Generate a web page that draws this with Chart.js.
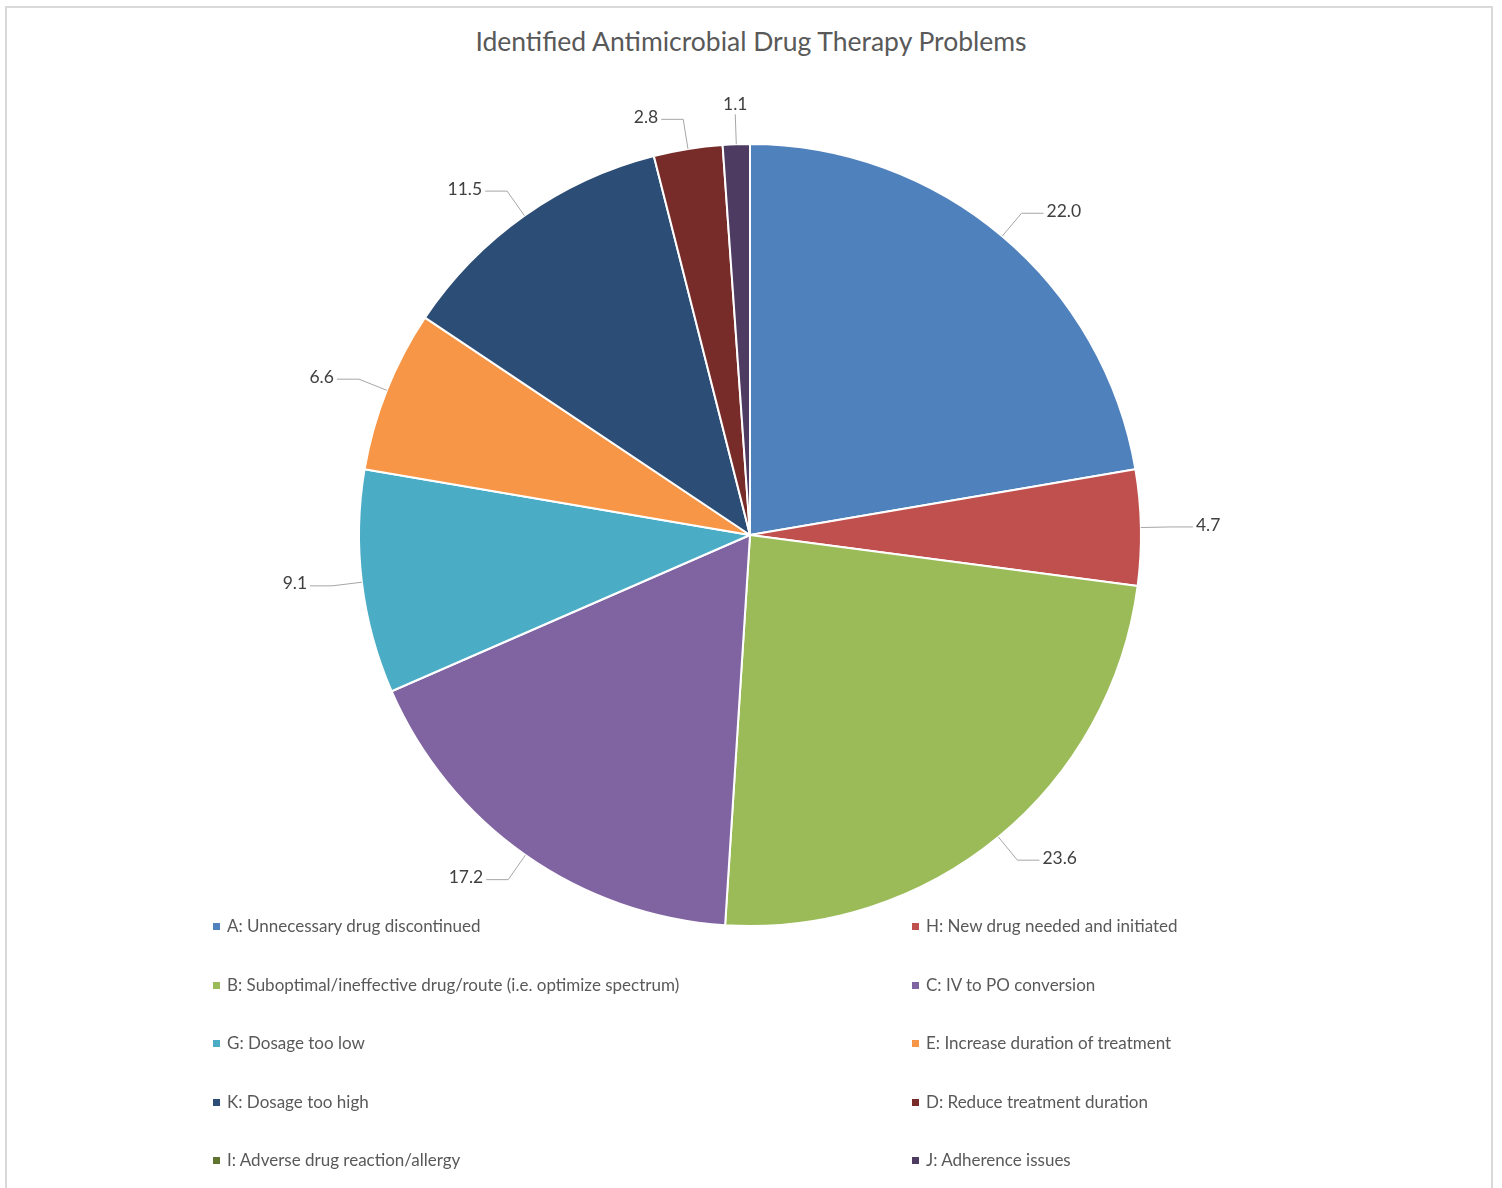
<!DOCTYPE html>
<html>
<head>
<meta charset="utf-8">
<script src="https://cdn.jsdelivr.net/npm/chart.js@4.4.0/dist/chart.umd.min.js"></script>
<style>
  html, body { margin: 0; padding: 0; background: #fff; overflow: hidden; }
  #wrap { position: relative; width: 1502px; height: 1188px; font-family: Lato, "Open Sans", sans-serif; }
  #frame { position: absolute; left: 5px; top: 6px; width: 1488px; height: 1220px; border: 2px solid #d9d9d9; box-sizing: border-box; }
  #title { position: absolute; left: 0; width: 1502px; top: 25px; text-align: center; font-size: 26.5px; color: #595959; }
  #canvas { position: absolute; left: 0; top: 0; }
  .item { position: absolute; font-size: 17px; color: #595959; white-space: nowrap; line-height: 20px; }
  .item span { display: inline-block; width: 7px; height: 7px; margin-right: 7px; vertical-align: 2px; }
</style>
</head>
<body>
<div id="wrap">
  <div id="frame"></div>
  <div id="title">Identified Antimicrobial Drug Therapy Problems</div>
  <canvas id="canvas" width="1502" height="1188"></canvas>
  <div id="legend"></div>
</div>
<script>
// categories in drawing order (clockwise from 12 o'clock)
var categories = [
  'A: Unnecessary drug discontinued',
  'H: New drug needed and initiated',
  'B: Suboptimal/ineffective drug/route (i.e. optimize spectrum)',
  'C: IV to PO conversion',
  'G: Dosage too low',
  'E: Increase duration of treatment',
  'K: Dosage too high',
  'D: Reduce treatment duration',
  'I: Adverse drug reaction/allergy',
  'J: Adherence issues'
];
var percents = [22.0, 4.7, 23.6, 17.2, 9.1, 6.6, 11.5, 2.8, 0, 1.1];
var colors = ['#4F81BD', '#C0504D', '#9BBB59', '#8064A2', '#4BACC6',
              '#F79646', '#2C4D75', '#772C2A', '#5F7530', '#4D3B62'];

// legend, two columns
var legend = document.getElementById('legend');
categories.forEach(function(name, i) {
  var d = document.createElement('div');
  d.className = 'item';
  d.style.left = (i % 2 == 0 ? 213 : 912) + 'px';
  d.style.top = (916 + Math.floor(i / 2) * 58.5) + 'px';
  d.innerHTML = '<span style="background:' + colors[i] + '"></span>' + name;
  legend.appendChild(d);
});

// outside labels with leader lines, like Excel's best fit
var outsideLabels = {
  id: 'outsideLabels',
  afterDatasetsDraw: function(chart) {
    var ctx = chart.ctx;
    var meta = chart.getDatasetMeta(0);
    ctx.save();
    ctx.font = '17.5px Lato, "Open Sans", sans-serif';
    ctx.fillStyle = '#404040';
    ctx.strokeStyle = '#a6a6a6';
    ctx.lineWidth = 1;
    meta.data.forEach(function(arc, i) {
      var v = percents[i];
      if (!v) return;
      var mid = (arc.startAngle + arc.endAngle) / 2;
      var dx = Math.cos(mid), dy = Math.sin(mid);
      var r = arc.outerRadius;
      var x1 = arc.x + dx * r, y1 = arc.y + dy * r;
      var x2 = arc.x + dx * (r + 30), y2 = arc.y + dy * (r + 30);
      var txt = v.toFixed(1);
      ctx.beginPath();
      ctx.moveTo(x1, y1);
      ctx.lineTo(x2, y2);
      if (Math.abs(dx) > 0.1) {
        var s = dx > 0 ? 1 : -1;
        var x3 = x2 + s * 22;
        ctx.lineTo(x3, y2);
        ctx.stroke();
        ctx.textAlign = s > 0 ? 'left' : 'right';
        ctx.textBaseline = 'middle';
        ctx.fillText(txt, x3 + s * 3, y2 - 2);
      } else {
        ctx.stroke();
        ctx.textAlign = 'center';
        ctx.textBaseline = 'bottom';
        ctx.fillText(txt, x2, y2 - 1);
      }
    });
    ctx.restore();
  }
};

new Chart(document.getElementById('canvas'), {
  type: 'pie',
  data: {
    labels: categories,
    datasets: [{
      data: percents,
      backgroundColor: colors,
      borderColor: '#ffffff',
      borderWidth: 2
    }]
  },
  options: {
    responsive: false,
    animation: false,
    layout: { padding: { left: 358, right: 360, top: 143, bottom: 261 } },
    plugins: {
      legend: { display: false },
      title: { display: false },
      tooltip: { enabled: false }
    }
  },
  plugins: [outsideLabels]
});
</script>
</body>
</html>
